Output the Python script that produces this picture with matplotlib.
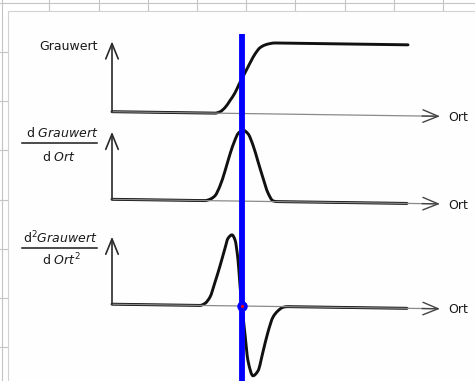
import matplotlib.pyplot as plt
from matplotlib.patches import Rectangle, PathPatch
from matplotlib.path import Path
from matplotlib.transforms import Affine2D

W, H = 475, 381

# Ort = pixel columns right of the vertical axis
ort_grau = [0, 103, 108, 113, 118, 123, 127, 131, 135, 139, 143, 148, 153, 158, 163, 296]
grauwert = [0, 0, 0.02, 0.08, 0.18, 0.29, 0.41, 0.52, 0.63, 0.74, 0.84, 0.93, 0.97, 0.99, 1.0, 1.0]

ort_d1 = [0, 93, 98, 103, 108, 113, 118, 123, 126, 131, 136, 141, 146, 151, 156, 161, 165, 295]
d1 = [0, 0, 0.02, 0.07, 0.21, 0.42, 0.66, 0.86, 0.95, 1.0, 0.95, 0.79, 0.56, 0.33, 0.12, 0.01, 0, 0]

ort_d2 = [0, 88, 93, 98, 103, 108, 113, 116, 120, 123, 126, 128, 130, 133, 136, 141, 146,
          151, 156, 161, 166, 171, 176, 295]
d2 = [0, 0, 0.03, 0.12, 0.33, 0.56, 0.81, 0.95, 1.0, 0.93, 0.65, 0.29, 0, -0.40, -0.77, -0.98,
      -0.91, -0.64, -0.36, -0.15, -0.06, -0.01, 0, 0]

edge_ort = 130
axis_tops = [0.99, 0.95, 0.95]

# panel layout in pixels: baseline at the axis origin, top, bottom
panels = [(111.7, 30, 125), (199.3, 120, 215), (304.2, 225, 381)]
x_left, x_right = 112, 445
px_per_unit = 71
tilt_deg = -0.8   # the scanned drawing is slightly rotated


def px_axes(fig, left, top, right, bottom):
    return fig.add_axes([left / W, 1 - bottom / H, (right - left) / W, (bottom - top) / H])


def smooth_path(xs, ys):
    # monotone cubic (pchip style) bezier through the read points
    n = len(xs)
    h = [xs[i + 1] - xs[i] for i in range(n - 1)]
    d = [(ys[i + 1] - ys[i]) / h[i] for i in range(n - 1)]
    m = [0.0] * n
    for i in range(1, n - 1):
        if d[i - 1] * d[i] > 0:
            w1 = 2 * h[i] + h[i - 1]
            w2 = h[i] + 2 * h[i - 1]
            m[i] = (w1 + w2) / (w1 / d[i - 1] + w2 / d[i])
    verts = [(xs[0], ys[0])]
    codes = [Path.MOVETO]
    for i in range(n - 1):
        verts += [(xs[i] + h[i] / 3, ys[i] + m[i] * h[i] / 3),
                  (xs[i + 1] - h[i] / 3, ys[i + 1] - m[i + 1] * h[i] / 3),
                  (xs[i + 1], ys[i + 1])]
        codes += [Path.CURVE4] * 3
    return Path(verts, codes)


def draw_background(fig):
    bg = fig.add_axes([0, 0, 1, 1])
    bg.set_xlim(0, W)
    bg.set_ylim(H, 0)
    bg.axis('off')
    cell = 49.2
    for k in range(9):
        bg.axvline(49.3 + k * cell, color='#c4c4c4', lw=0.8, zorder=1)
    for k in range(8):
        bg.axhline(2.7 + k * cell, color='#c4c4c4', lw=0.8, zorder=1)
    bg.axvline(2, color='#c4c4c4', lw=0.8, zorder=1)
    bg.add_patch(Rectangle((7.5, 11), W, H, facecolor='#fefefe', edgecolor='#d2d2d2',
                           lw=0.8, zorder=2))

    txt = dict(fontsize=9, color='#1a1a1a', ha='center', va='center', zorder=3)
    bg.text(68, 47, 'Grauwert', **txt)
    bg.text(62, 133, r'd $\it{Grauwert}$', **txt)
    bg.plot([22, 97], [143, 143], color='#1a1a1a', lw=1.1, zorder=3)
    bg.text(59, 157, r'd $\it{Ort}$', **txt)
    bg.text(60, 238, r'd$^2$$\it{Grauwert}$', **txt)
    bg.plot([22, 97], [247.5, 247.5], color='#1a1a1a', lw=1.1, zorder=3)
    bg.text(62, 260, r'd $\it{Ort}^2$', **txt)
    return bg


def draw_panel(fig, baseline, top, bottom, ort, vals, axis_top):
    ax = px_axes(fig, x_left, top, x_right, bottom)
    ax.set_xlim(0, x_right - x_left)
    ax.set_ylim(-(bottom - baseline) / px_per_unit, (baseline - top) / px_per_unit)
    ax.axis('off')
    ox, oy = ax.transData.transform((0, 0))
    tilt = ax.transData + Affine2D().translate(-ox, -oy).skew_deg(0, tilt_deg).translate(ox, oy)

    ax.plot([0, 322], [0, 0], color='#8a8a8a', lw=0.9, transform=tilt, clip_on=False)
    ax.annotate('', xy=(328, 0), xytext=(310, 0), xycoords=tilt,
                arrowprops=dict(arrowstyle='->, head_length=1.1, head_width=0.45',
                                color='#444444', lw=1.0, mutation_scale=10,
                                shrinkA=0, shrinkB=0))
    ax.annotate('', xy=(0, axis_top), xytext=(0, 0), xycoords=tilt,
                arrowprops=dict(arrowstyle='->, head_length=1.1, head_width=0.45',
                                color='#2a2a2a', lw=1.2, mutation_scale=10,
                                shrinkA=0, shrinkB=0))
    ax.add_patch(PathPatch(smooth_path(ort, vals), facecolor='none', edgecolor='#111111',
                           lw=2.1, transform=tilt, clip_on=False,
                           joinstyle='round', capstyle='round'))
    ax.text(336, -0.015, 'Ort', fontsize=9, color='#1a1a1a', ha='left', va='center',
            transform=tilt)
    return tilt


def main():
    fig = plt.figure(figsize=(W / 100, H / 100), dpi=100)
    fig.patch.set_facecolor('white')
    draw_background(fig)

    series = [(ort_grau, grauwert), (ort_d1, d1), (ort_d2, d2)]
    tilts = []
    for (baseline, top, bottom), (ort, vals), axis_top in zip(panels, series, axis_tops):
        tilts.append(draw_panel(fig, baseline, top, bottom, ort, vals, axis_top))

    over = fig.add_axes([0, 0, 1, 1])
    over.set_xlim(-x_left, W - x_left)
    over.set_ylim(H, 0)
    over.axis('off')
    over.patch.set_alpha(0)
    over.axvline(edge_ort, ymin=0, ymax=1 - 34 / H, color='#0000ff', lw=4.2, solid_capstyle='butt')
    over.plot([edge_ort], [0], 'o', ms=6.5, color='#0000ff', transform=tilts[2], clip_on=False)
    over.plot([edge_ort], [0], 'o', ms=1.2, color='#ff0000', transform=tilts[2], clip_on=False)

    fig.savefig('out.png', dpi=100)


if __name__ == '__main__':
    main()
